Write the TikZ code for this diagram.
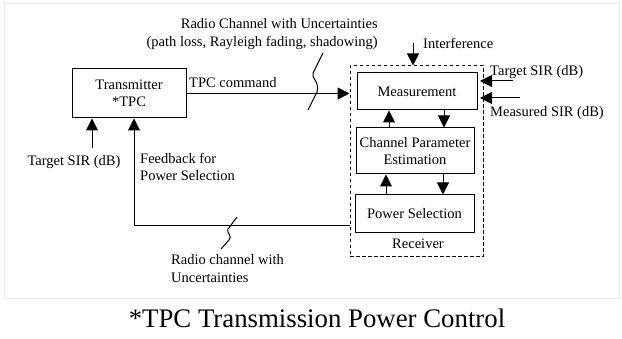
\documentclass[tikz,border=0pt]{standalone}
\usepackage{fontspec}
\setmainfont{Liberation Serif}
\usetikzlibrary{arrows.meta}
\begin{document}
\begin{tikzpicture}[x=1pt,y=-1pt,
  every node/.style={font=\fontsize{14.5}{17.5}\selectfont},
  box/.style={draw, line width=1pt, fill=white, inner sep=0pt, align=center},
  lbl/.style={inner sep=0pt, align=left},
  arr/.style={line width=1pt, -{Triangle[length=12pt,width=12pt]}},
  ln/.style={line width=1pt}]
\useasboundingbox (0,0) rectangle (622,339);
\fill[white] (0,0) rectangle (622,339);
\draw[black!8, line width=0.8pt] (4,3) rectangle (619,298);

% blocks
\node[box, minimum width=114pt, minimum height=49pt] (tx) at (129,93.5) {Transmitter\\*TPC};
\node[draw, dash pattern=on 3.5pt off 2.5pt, line width=1pt, inner sep=0pt,
      minimum width=133pt, minimum height=191pt] (rx) at (416.5,161.5) {};
\node[box, minimum width=120pt, minimum height=37pt] (meas) at (417,91.5) {Measurement};
\node[box, minimum width=118pt, minimum height=46pt] (cpe) at (415,151) {Channel Parameter\\Estimation};
\node[box, minimum width=119pt, minimum height=38pt] (ps) at (414.5,214) {Power Selection};
\node[lbl] (rxl) at (418,244) {Receiver};

% labels
\node[lbl, anchor=east, align=right] (rcl) at (378,34) {Radio Channel with Uncertainties\\(path loss, Rayleigh fading, shadowing)};
\node[lbl, anchor=west] (tpcl) at (189,83) {TPC command};
\node[lbl, anchor=west] (intl) at (423,43) {Interference};
\node[lbl, anchor=west] (tsrl) at (490,72) {Target SIR (dB)};
\node[lbl, anchor=west] (msrl) at (490,113) {Measured SIR (dB)};
\node[lbl] (tsll) at (74,162) {Target SIR (dB)};
\node[lbl, anchor=west] (fbl) at (140,167) {Feedback for\\Power Selection};
\node[lbl, anchor=west] (rcl2) at (171,268.5) {Radio channel with\\Uncertainties};
\node[inner sep=0pt, font=\fontsize{26.8}{30}\selectfont] (cap) at (317,318) {*TPC Transmission Power Control};

% connectors
\coordinate (ts) at (92,148);
\draw[arr] (ts) -- (ts |- tx.south);
\coordinate (fb) at (134,226);
\draw[arr] (rx.west |- fb) -- (fb) -- (fb |- tx.south);
\draw[arr] (tx.east) -- (tx.east -| rx.west);
\coordinate (intf) at (413,43);
\draw[arr] (intf) -- (intf |- rx.north);
\coordinate (tr) at (513,81);
\coordinate (trt) at (480,81);
\draw[arr] (tr) -- (trt);
\coordinate (mr) at (520,98);
\coordinate (mrt) at (480,98);
\draw[arr] (mr) -- (mrt);
\coordinate (u1) at (389,119);
\draw[arr] (u1 |- cpe.north) -- (u1 |- meas.south);
\coordinate (d1) at (444,119);
\draw[arr] (d1 |- meas.south) -- (d1 |- cpe.north);
\coordinate (u2) at (386,184);
\draw[arr] (u2 |- ps.north) -- (u2 |- cpe.south);
\coordinate (d2) at (443,184);
\draw[arr] (d2 |- cpe.south) -- (d2 |- ps.north);

% squiggles (channel symbols)
\draw[ln] (323,53) -- (313,73) .. controls (311,78) and (320,82) .. (317,92) -- (308,110);
\draw[ln] (237,217) -- (228,229) .. controls (226,233) and (233,236) .. (229,240) -- (221,249);
\end{tikzpicture}
\end{document}
